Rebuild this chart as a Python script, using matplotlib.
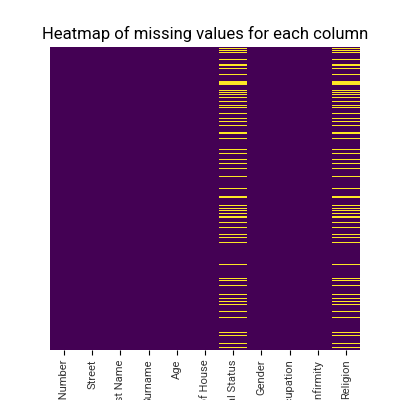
import numpy as np
import pandas as pd
import matplotlib
matplotlib.use('Agg')
import matplotlib.pyplot as plt
import seaborn as sns

columns = ['House Number', 'Street', 'First Name', 'Surname', 'Age',
           'Relationship to Head of House', 'Marital Status', 'Gender',
           'Occupation', 'Infirmity', 'Religion']
n_rows = 303
# rows (approx.) where Marital Status / Religion are missing
missing_rows = [1, 3, 5, 12, 17, 18, 21, 27, 34, 35, 36, 37, 43, 45, 47, 50, 54,
                58, 60, 66, 71, 74, 78, 85, 86, 91, 102, 106, 112, 116, 121, 129,
                141, 149, 150, 158, 161, 163, 166, 169, 170, 175, 180, 187, 190,
                195, 217, 231, 233, 238, 247, 251, 254, 257, 264, 270, 285, 288,
                296, 300]
missing_cols = ['Marital Status', 'Religion']

df = pd.DataFrame(False, index=range(n_rows), columns=columns)
for c in missing_cols:
    df.loc[missing_rows, c] = True

plt.rcParams['font.family'] = ['Roboto', 'DejaVu Sans']
fig = plt.figure(figsize=(4, 4), dpi=100)
ax = fig.add_axes([0.125, 0.125, 0.775, 0.757])
sns.heatmap(df, cmap='viridis', cbar=False, yticklabels=False, ax=ax)
ax.set_xticklabels(columns, rotation=90, fontsize=8, color='#333333')
ax.set_title('Heatmap of missing values for each column', fontsize=12)
fig.savefig('out.png', dpi=100)
